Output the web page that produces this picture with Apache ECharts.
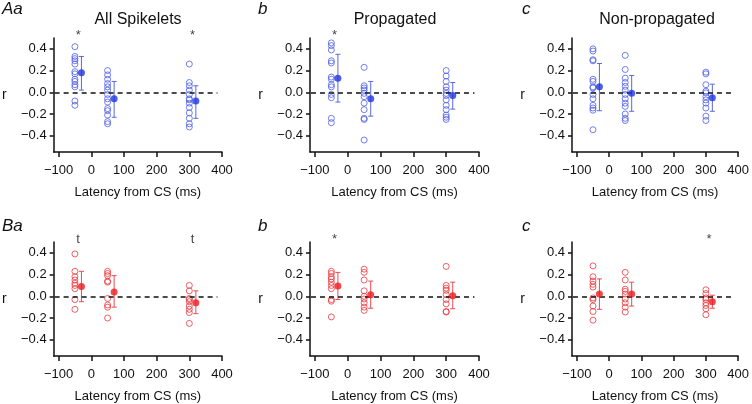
<!DOCTYPE html>
<html>
<head>
<meta charset="utf-8">
<script src="https://cdn.jsdelivr.net/npm/echarts@6/dist/echarts.min.js"></script>
<style>
  html, body { margin: 0; padding: 0; background: #fff; }
  #chart { width: 752px; height: 404px; }
</style>
</head>
<body>
<div id="chart"></div>
<script>
// x positions of the raw points and of the mean +/- sd markers
const groupX = [-50, 50, 300];
const meanX = [-30, 70, 320];
const sigX = [-40, 310];
const sigY = 0.52;
const xTicks = [-100, 0, 100, 200, 300, 400];
const yTicks = [-0.4, -0.2, 0, 0.2, 0.4];
const titles = ['All Spikelets', 'Propagated', 'Non-propagated'];
const letters = [['Aa', 'b', 'c'], ['Ba', 'b', 'c']];

// A: all spikelets
const aAllPts = [
  [0.42, 0.33, 0.31, 0.29, 0.26, 0.19, 0.17, 0.12, 0.10, 0.07, 0.05, -0.08, -0.12],
  [0.20, 0.16, 0.12, 0.08, 0.05, 0.02, -0.02, -0.06, -0.09, -0.15, -0.17, -0.21, -0.27, -0.29],
  [0.26, 0.09, 0.06, 0.02, -0.02, -0.06, -0.07, -0.10, -0.14, -0.19, -0.24, -0.29, -0.32]
];
const aAllMean = [0.18, -0.06, -0.08];
const aAllHi = [0.33, 0.10, 0.06];
const aAllLo = [0.02, -0.23, -0.24];
const aAllSig = ['*', '*'];

// A: propagated
const aPropPts = [
  [0.455, 0.43, 0.39, 0.29, 0.27, 0.14, 0.12, 0.07, 0.05, -0.02, -0.05, -0.24, -0.28],
  [0.23, 0.06, 0.04, 0.02, -0.01, -0.04, -0.10, -0.16, -0.24, -0.25, -0.44],
  [0.20, 0.15, 0.10, 0.05, 0.02, -0.01, -0.03, -0.07, -0.12, -0.16, -0.21, -0.23, -0.25]
];
const aPropMean = [0.13, -0.06, -0.03];
const aPropHi = [0.35, 0.10, 0.09];
const aPropLo = [-0.09, -0.22, -0.155];
const aPropSig = ['*', ''];

// A: non-propagated
const aNonPts = [
  [0.40, 0.38, 0.30, 0.29, 0.12, 0.10, 0.05, 0.04, -0.02, -0.06, -0.12, -0.145, -0.165, -0.345],
  [0.34, 0.21, 0.13, 0.09, 0.055, 0.02, -0.02, -0.06, -0.10, -0.13, -0.20, -0.24, -0.26],
  [0.185, 0.17, 0.07, 0.01, -0.005, -0.04, -0.07, -0.10, -0.145, -0.22, -0.26]
];
const aNonMean = [0.05, -0.01, -0.05];
const aNonHi = [0.265, 0.155, 0.075];
const aNonLo = [-0.17, -0.175, -0.175];
const aNonSig = ['', ''];

// B: all spikelets
const bAllPts = [
  [0.39, 0.23, 0.18, 0.15, 0.12, 0.10, 0.07, -0.03, -0.12],
  [0.23, 0.21, 0.19, 0.14, 0.13, -0.02, -0.08, -0.10, -0.20],
  [0.10, 0.05, -0.02, -0.03, -0.05, -0.09, -0.12, -0.15, -0.25]
];
const bAllMean = [0.09, 0.04, -0.06];
const bAllHi = [0.23, 0.19, 0.05];
const bAllLo = [-0.05, -0.10, -0.16];
const bAllSig = ['t', 't'];

// B: propagated
const bPropPts = [
  [0.23, 0.21, 0.18, 0.16, 0.13, 0.10, 0.07, -0.03, -0.045, -0.19],
  [0.25, 0.22, 0.15, 0.05, 0.0, -0.025, -0.06, -0.10, -0.13],
  [0.275, 0.10, 0.075, 0.055, 0.015, -0.03, -0.07, -0.14, -0.145]
];
const bPropMean = [0.095, 0.015, 0.005];
const bPropHi = [0.22, 0.14, 0.13];
const bPropLo = [-0.03, -0.11, -0.115];
const bPropSig = ['*', ''];

// B: non-propagated
const bNonPts = [
  [0.28, 0.18, 0.14, 0.11, 0.085, -0.015, -0.03, -0.09, -0.14, -0.22],
  [0.22, 0.15, 0.065, 0.045, 0.02, -0.025, -0.06, -0.10, -0.145],
  [0.06, 0.025, -0.015, -0.03, -0.06, -0.085, -0.115, -0.17]
];
const bNonMean = [0.02, 0.02, -0.05];
const bNonHi = [0.16, 0.13, 0.01];
const bNonLo = [-0.12, -0.09, -0.11];
const bNonSig = ['', '*'];

const blue = { ring: '#4f5fe6', dot: '#1f35e0', bar: '#5a6ad8' };
const red = { ring: '#ea3a3f', dot: '#ee1a1f', bar: '#e84c50' };

const panels = [
  { pts: aAllPts, mean: aAllMean, hi: aAllHi, lo: aAllLo, sig: aAllSig, c: blue },
  { pts: aPropPts, mean: aPropMean, hi: aPropHi, lo: aPropLo, sig: aPropSig, c: blue },
  { pts: aNonPts, mean: aNonMean, hi: aNonHi, lo: aNonLo, sig: aNonSig, c: blue },
  { pts: bAllPts, mean: bAllMean, hi: bAllHi, lo: bAllLo, sig: bAllSig, c: red },
  { pts: bPropPts, mean: bPropMean, hi: bPropHi, lo: bPropLo, sig: bPropSig, c: red },
  { pts: bNonPts, mean: bNonMean, hi: bNonHi, lo: bNonLo, sig: bNonSig, c: red }
];

const font = 'Liberation Sans, Arial, Helvetica, sans-serif';
const gridLeft = [53, 310, 572];
const gridTop = [38, 242];
const fmtMinus = v => (v < 0 ? '\u2212' : '') + Math.abs(v);

const grids = [], xAxes = [], yAxes = [], series = [];
panels.forEach((p, i) => {
  const row = Math.floor(i / 3), col = i % 3;
  grids.push({ left: gridLeft[col], top: gridTop[row], width: 169, height: 114 });
  xAxes.push({
    type: 'value', gridIndex: i, min: -115, max: 400,
    name: 'Latency from CS (ms)', nameLocation: 'middle', nameGap: 34,
    nameTextStyle: { fontSize: 13, color: '#111', fontFamily: font },
    axisLine: { show: true, onZero: false, lineStyle: { color: '#111', width: 1.5 } },
    axisTick: { show: true, inside: false, length: 5, customValues: xTicks, lineStyle: { color: '#111', width: 1.5 } },
    axisLabel: { customValues: xTicks, margin: 12, fontSize: 13, color: '#111', fontFamily: font, formatter: fmtMinus },
    splitLine: { show: false }
  });
  yAxes.push({
    type: 'value', gridIndex: i, min: -0.55, max: 0.5,
    name: 'r', nameLocation: 'middle', nameGap: 47, nameRotate: 0,
    nameTextStyle: { fontSize: 14, color: '#111', fontFamily: font },
    axisLine: { show: true, onZero: false, lineStyle: { color: '#111', width: 1.5 } },
    axisTick: { show: true, inside: false, length: 4, customValues: yTicks, lineStyle: { color: '#111', width: 1.5 } },
    axisLabel: { customValues: yTicks, margin: 7, fontSize: 13, color: '#111', fontFamily: font,
      formatter: v => (v < 0 ? '\u2212' : '') + Math.abs(v).toFixed(1) },
    splitLine: { show: false }
  });

  const ptData = [];
  p.pts.forEach((vals, k) => vals.forEach(v => ptData.push([groupX[k], v])));

  series.push({
    type: 'scatter', xAxisIndex: i, yAxisIndex: i, data: ptData,
    symbol: 'circle', symbolSize: 6,
    itemStyle: { color: 'rgba(255,255,255,0)', borderColor: p.c.ring, borderWidth: 1 },
    markLine: {
      silent: true, symbol: 'none', label: { show: false },
      lineStyle: { color: '#111', type: [5, 4], width: 1.6 },
      data: [[{ coord: [-112, 0] }, { coord: [386, 0] }]]
    },
    z: 3
  });
  series.push({
    type: 'custom', xAxisIndex: i, yAxisIndex: i,
    data: meanX.map((x, k) => [x, p.lo[k], p.hi[k]]),
    renderItem: (params, api) => {
      const x = api.value(0);
      const a = api.coord([x, api.value(1)]);
      const b = api.coord([x, api.value(2)]);
      const w = 2.5;
      const st = { stroke: p.c.bar, lineWidth: 1 };
      return { type: 'group', children: [
        { type: 'line', shape: { x1: a[0], y1: a[1], x2: b[0], y2: b[1] }, style: st },
        { type: 'line', shape: { x1: a[0] - w, y1: a[1], x2: a[0] + w, y2: a[1] }, style: st },
        { type: 'line', shape: { x1: b[0] - w, y1: b[1], x2: b[0] + w, y2: b[1] }, style: st }
      ] };
    },
    z: 4
  });
  series.push({
    type: 'scatter', xAxisIndex: i, yAxisIndex: i,
    data: meanX.map((x, k) => [x, p.mean[k]]),
    symbol: 'circle', symbolSize: 7,
    itemStyle: { color: p.c.dot },
    z: 5
  });
  series.push({
    type: 'scatter', xAxisIndex: i, yAxisIndex: i, clip: false,
    data: sigX.map((x, k) => ({ value: [x, sigY], name: p.sig[k] })),
    symbolSize: 1, itemStyle: { color: 'rgba(0,0,0,0)' },
    label: { show: true, position: 'inside', formatter: d => d.name,
      fontSize: 13, color: '#111', fontFamily: font },
    silent: true
  });
});

const graphics = [];
titles.forEach((t, col) => {
  graphics.push({ type: 'text', x: gridLeft[col] + 85, y: 12,
    style: { text: t, fontSize: 16, fontFamily: font, fill: '#111', textAlign: 'center' } });
});
letters.forEach((rowL, row) => rowL.forEach((t, col) => {
  graphics.push({ type: 'text', x: [2, 258, 522][col], y: row === 0 ? 1 : 218,
    style: { text: t, fontSize: 17, fontStyle: 'italic', fontFamily: font, fill: '#111' } });
}));

const chart = echarts.init(document.getElementById('chart'));
chart.setOption({
  animation: false,
  backgroundColor: '#fff',
  grid: grids,
  xAxis: xAxes,
  yAxis: yAxes,
  series: series,
  graphic: graphics
});
</script>
</body>
</html>
